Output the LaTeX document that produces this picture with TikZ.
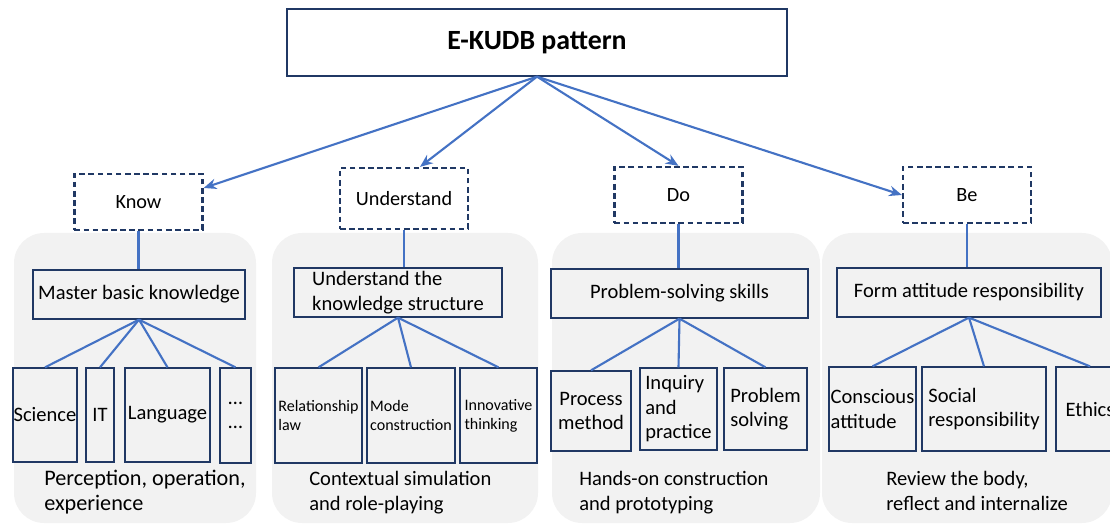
\documentclass[tikz,border=0pt]{standalone}
\usepackage{fontspec}
\setmainfont{Carlito}
\usetikzlibrary{arrows.meta, positioning}
\definecolor{kublue}{HTML}{4472C4}
\definecolor{kunavy}{HTML}{203864}
\definecolor{kupanel}{HTML}{F2F2F2}

\begin{document}
\begin{tikzpicture}[x=0.025cm, y=-0.025cm,
    title/.style={rectangle, draw=kunavy, line width=0.9pt, minimum width=12.5cm, minimum height=1.675cm, font=\fontsize{19.8}{23}\selectfont\bfseries},
    dimbox/.style={rectangle, draw=kunavy, line width=1.6pt, dash pattern=on 4pt off 2.5pt, fill=white, minimum width=3.2cm, font=\fontsize{14.4}{17}\selectfont},
    goalbox/.style={rectangle, draw=kunavy, line width=0.9pt, fill=kupanel, inner sep=0pt, minimum height=1.225cm, align=left, font=\fontsize{14.6}{17.8}\selectfont},
    leafbox/.style={rectangle, draw=kunavy, line width=0.9pt, inner sep=0pt, align=left, font=\fontsize{14.6}{17.4}\selectfont},
    smallbox/.style={leafbox, font=\fontsize{11.4}{13.6}\selectfont},
    panel/.style={fill=kupanel, rounded corners=0.75cm},
    note/.style={anchor=north west, inner sep=0pt, align=left, font=\fontsize{14.6}{17.8}\selectfont},
    link/.style={draw=kublue, line width=1.5pt},
    arrow/.style={link, -{Stealth[length=3.2mm, width=2.6mm]}}
]
\useasboundingbox (0,0) rectangle (1110,524);
\clip (0,0) rectangle (1110,524);

% grey panels
\fill[panel] (14,233) rectangle (256,523);
\fill[panel] (272,233) rectangle (538,523);
\fill[panel] (552,233) rectangle (820,523);
\fill[panel] (822,233) rectangle (1112,523);

\node[title] (pattern) at (537,42.5) {E-KUDB pattern};

\node[dimbox, minimum height=1.4cm] (know) at (138.5,202) {Know};
\node[dimbox, minimum height=1.525cm] (understand) at (404,198.5) {Understand};
\node[dimbox, minimum height=1.4cm] (do) at (678.5,195) {Do};
\node[dimbox, minimum height=1.4cm] (be) at (967,195) {Be};

\node[goalbox, minimum width=5.3cm] (master) at (139,294.5) {Master basic knowledge};
\node[goalbox, minimum width=5.2cm] (structure) at (398,292.5) {Understand the\\knowledge structure};
\node[goalbox, minimum width=6.425cm] (skills) at (679.5,293.5) {Problem-solving skills};
\node[goalbox, minimum width=6.6cm] (attitude) at (969,292.5) {Form attitude responsibility};

% know
\node[leafbox, minimum width=1.6cm, minimum height=2.35cm] (science) at (45,415) {Science};
\node[leafbox, minimum width=0.7cm, minimum height=2.35cm] (it) at (100,415) {IT};
\node[leafbox, minimum width=2.125cm, minimum height=2.35cm] (language) at (167.5,415) {Language};
\node[leafbox, minimum width=0.775cm, minimum height=2.375cm] (more) at (235.5,415.5) {…\\…};

% understand
\node[smallbox, minimum width=2.175cm, minimum height=2.375cm] (relation) at (318.5,415.5) {Relationship\\law};
\node[smallbox, minimum width=2.2cm, minimum height=2.375cm] (mode) at (411,415.5) {Mode\\construction};
\node[smallbox, minimum width=1.925cm, minimum height=2.375cm] (innovate) at (498.5,415.5) {Innovative\\thinking};

% do
\node[leafbox, minimum width=2cm, minimum height=2cm, align=center] (process) at (591,411) {Process\\method};
\node[leafbox, minimum width=1.925cm, minimum height=2.05cm] (inquiry) at (678.5,409) {Inquiry\\and\\practice};
\node[leafbox, minimum width=2.075cm, minimum height=2.05cm] (solving) at (765.5,409) {Problem\\solving};

% be
\node[leafbox, minimum width=2.175cm, minimum height=2.1cm] (conscious) at (872.5,409) {Conscious\\attitude};
\node[leafbox, minimum width=3.1cm, minimum height=2.1cm] (social) at (984,409) {Social\\responsibility};
\node[leafbox, minimum width=1.7cm, minimum height=2.1cm] (ethics) at (1090,409) {Ethics};

\node[note, font=\fontsize{15.8}{17.5}\selectfont] (sense) at (44,470) {Perception, operation,\\experience};
\node[note] (context) at (309,471) {Contextual simulation\\and role-playing};
\node[note] (handson) at (579,471) {Hands-on construction\\and prototyping};
\node[note] (review) at (886,471) {Review the body,\\reflect and internalize};

\draw[arrow] (pattern.south) -- ([yshift=3.5mm]know.east);
\draw[arrow] (pattern.south) -- ([xshift=4mm]understand.north);
\draw[arrow] (pattern.south) -- (do.north);
\draw[arrow] (pattern.south) -- (be.west);

\foreach \a/\b in {know/master, understand/structure, do/skills, be/attitude}
    \draw[link] (\a.south) -- (\a.south |- \b.north);

\foreach \l in {science, it, language, more}
    \draw[link] (master.south) -- (\l.north);
\foreach \l in {relation, mode, innovate}
    \draw[link] (structure.south) -- (\l.north);
\foreach \l in {process, inquiry, solving}
    \draw[link] (skills.south) -- (\l.north);
\foreach \l in {conscious, social, ethics}
    \draw[link] (attitude.south) -- (\l.north);

\end{tikzpicture}
\end{document}
